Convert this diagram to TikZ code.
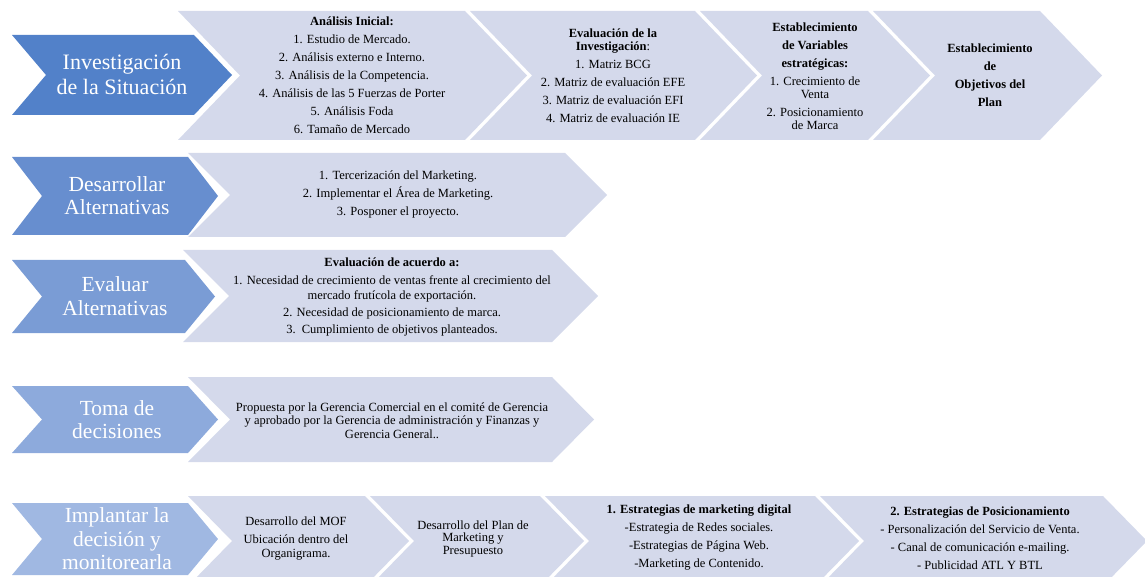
\documentclass[tikz,border=0pt]{standalone}
\usepackage{fontspec}
\setmainfont{Liberation Serif}
\definecolor{lightc}{HTML}{D4D9EB}
\definecolor{blueA}{HTML}{5281C9}
\definecolor{blueB}{HTML}{678ECF}
\definecolor{blueC}{HTML}{7A9CD5}
\definecolor{blueD}{HTML}{8DAADC}
\definecolor{blueE}{HTML}{A0B8E2}
\newcommand{\chevshape}[7]{\fill[#7] (#1,#3) -- (#2,#3) -- ({#2+#5},{(#3+#4)/2}) -- (#2,#4) -- (#1,#4) -- ({#1+#6},{(#3+#4)/2}) -- cycle;}
\tikzset{
  btxt/.style={text=white, font=\fontsize{21.5}{23.5}\selectfont, align=center, inner sep=0pt},
  btxtA/.style={text=white, font=\fontsize{22}{25}\selectfont, align=center, inner sep=0pt},
  ltxt/.style={font=\fontsize{12.5}{18}\selectfont, align=center, inner sep=0pt},
}
\begin{document}
\begin{tikzpicture}[x=1pt,y=-1pt]
\useasboundingbox (0,0) rectangle (1145,577);
\clip (0,0) rectangle (1145,577);
% Row 1
\chevshape{178}{465}{11}{140}{62}{62}{lightc}
\chevshape{470}{695}{11}{140}{62}{62}{lightc}
\chevshape{700}{868}{11}{140}{62}{62}{lightc}
\chevshape{873}{1040}{11}{140}{62}{62}{lightc}
\chevshape{12}{194}{35}{115}{38}{34}{blueA}
% Row 2
\chevshape{188}{565}{153}{237}{42}{42}{lightc}
\chevshape{12}{188}{157}{235}{30}{30}{blueB}
% Row 3
\chevshape{183}{552}{250}{342}{46}{46}{lightc}
\chevshape{12}{185}{260}{333}{30}{30}{blueC}
% Row 4
\chevshape{188}{552}{377}{462}{42}{42}{lightc}
\chevshape{12}{188}{386}{453}{30}{30}{blueD}
% Row 5
\chevshape{188}{365}{496}{586}{44}{44}{lightc}
\chevshape{370}{540}{496}{586}{44}{44}{lightc}
\chevshape{545}{815}{496}{586}{44}{44}{lightc}
\chevshape{820}{1103}{496}{586}{44}{44}{lightc}
\chevshape{12}{188}{503}{575}{30}{30}{blueE}

% Blue labels
\node[btxtA] (b1) at (122,74.5) {Investigación\\de la Situación};
\node[btxt] (b2) at (117,195.5) {Desarrollar\\Alternativas};
\node[btxt] (b3) at (115,296) {Evaluar\\Alternativas};
\node[btxt] (b4) at (117,419.5) {Toma de\\decisiones};
\node[btxt] (b5) at (117,539) {Implantar la\\decisión y\\monitorearla};

% Row 1 texts
\node[ltxt] (t1a) at (352,75.5) {\textbf{Análisis Inicial:}\\1. Estudio de Mercado.\\2. Análisis externo e Interno.\\3. Análisis de la Competencia.\\4. Análisis de las 5 Fuerzas de Porter\\5. Análisis Foda\\6. Tamaño de Mercado};
\node[ltxt] (t1b) at (613,75.5) {\textbf{Evaluación de la}\\[-5pt]\textbf{Investigación}:\\1. Matriz BCG\\2. Matriz de evaluación EFE\\3. Matriz de evaluación EFI\\4. Matriz de evaluación IE};
\node[ltxt] (t1c) at (815,76) {\textbf{Establecimiento}\\\textbf{de Variables}\\\textbf{estratégicas:}\\1. Crecimiento de\\[-5pt]Venta\\2. Posicionamiento\\[-5pt]de Marca};
\node[ltxt] (t1d) at (990,75.5) {\textbf{Establecimiento}\\\textbf{de}\hspace*{40pt}\\\textbf{Objetivos del}\\\textbf{Plan}};

% Row 2
\node[ltxt] (t2) at (398,194.5) {1. Tercerización del Marketing.\\2. Implementar el Área de Marketing.\\3. Posponer el proyecto.};
% Row 3
\node[ltxt] (t3) at (392,296.5) {\textbf{Evaluación de acuerdo a:}\\1. Necesidad de crecimiento de ventas frente al crecimiento del\\[-3pt]mercado frutícola de exportación.\\[-1pt]2. Necesidad de posicionamiento de marca.\\[-1pt]3.\ \ Cumplimiento de objetivos planteados.};
% Row 4
\node[ltxt, font=\fontsize{12.5}{13.5}\selectfont] (t4) at (392,420.5) {Propuesta por la Gerencia Comercial en el comité de Gerencia\\y aprobado por la Gerencia de administración y Finanzas y\\Gerencia General..};
% Row 5
\node[ltxt] (t5a) at (296,539) {Desarrollo del MOF\\Ubicación dentro del\\[-4pt]Organigrama.};
\node[ltxt, font=\fontsize{12.5}{12.5}\selectfont] (t5b) at (473,538.5) {Desarrollo del Plan de\\Marketing y\\Presupuesto};
\node[ltxt] (t5c) at (699,538) {\textbf{1. Estrategias de marketing digital}\\-Estrategia de Redes sociales.\\-Estrategias de Página Web.\\-Marketing de Contenido.};
\node[ltxt] (t5d) at (980,538) {\textbf{2. Estrategias de Posicionamiento}\\- Personalización del Servicio de Venta.\\- Canal de comunicación e-mailing.\\- Publicidad ATL Y BTL};
\end{tikzpicture}
\end{document}
